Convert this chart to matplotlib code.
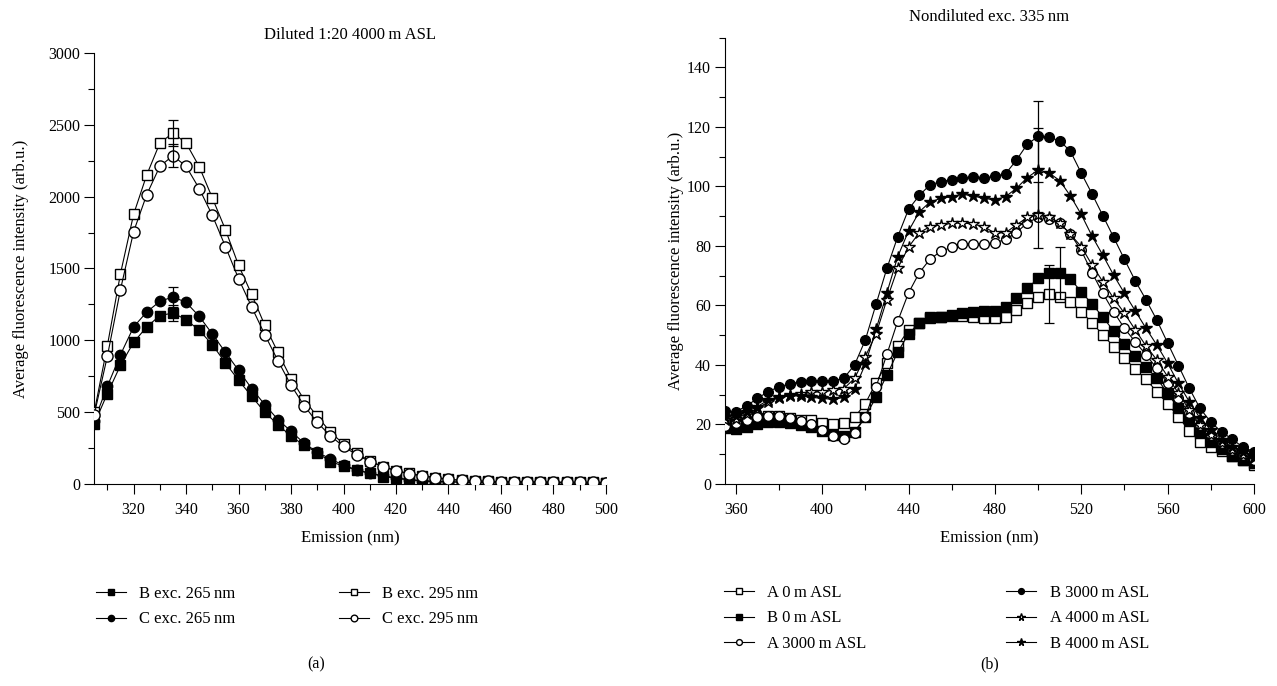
import numpy as np
import matplotlib
matplotlib.use('Agg')
from matplotlib import pyplot as plt
from matplotlib.ticker import MultipleLocator

plt.rcParams['font.family'] = ['Liberation Serif', 'DejaVu Serif']
plt.rcParams['font.size'] = 11.5

# ---- panel (a): diluted 1:20, 4000 m ASL ----
wl_a = list(range(305, 505, 5))
b265 = [418, 629, 826, 986, 1093, 1172, 1190, 1144, 1070, 970, 842, 722, 610, 499, 413, 332,
        269, 218, 155, 125, 96, 75, 52, 40, 30, 22, 18, 15, 13, 12, 11, 10, 10, 9, 9, 8, 8, 8, 8, 8]
c265 = [440, 680, 900, 1093, 1197, 1271, 1302, 1264, 1167, 1044, 916, 791, 664, 552, 448, 367,
        283, 222, 174, 131, 99, 74, 59, 42, 30, 21, 17, 15, 13, 12, 11, 10, 10, 9, 9, 8, 8, 8, 8, 8]
b295 = [500, 963, 1464, 1877, 2151, 2373, 2443, 2373, 2209, 1991, 1770, 1522, 1320, 1104, 916, 733,
        586, 470, 362, 278, 214, 160, 121, 93, 74, 58, 44, 32, 25, 21, 18, 16, 15, 14, 13, 12, 12, 11, 11, 10]
c295 = [483, 889, 1353, 1756, 2014, 2211, 2285, 2211, 2056, 1870, 1652, 1429, 1232, 1039, 858, 687,
        545, 428, 335, 261, 203, 156, 121, 93, 70, 56, 44, 32, 25, 21, 18, 16, 15, 14, 13, 12, 12, 11, 11, 10]
err_a = {'b265': 58, 'c265': 70, 'b295': 93, 'c295': 80}  # error bars at 335 nm

# ---- panel (b): nondiluted, exc. 335 nm ----
wl_b = list(range(355, 605, 5))
a0 = [20.4, 20.2, 20.6, 22.1, 22.9, 22.9, 22.1, 21.5, 21.5, 20.4, 20.2, 20.4, 22.4, 27.0, 34.1, 40.6,
      46.4, 51.8, 54.2, 56.0, 56.2, 56.5, 56.5, 56.0, 55.7, 55.7, 56.2, 58.5, 60.9, 63.0, 63.8, 63.0,
      61.3, 57.9, 54.2, 50.1, 46.2, 42.2, 38.7, 35.2, 31.0, 26.9, 22.6, 17.8, 14.2, 12.5, 11.0, 9.5, 8.0, 6.5]
b0 = [18.7, 18.4, 19.0, 20.2, 20.9, 20.9, 20.4, 19.8, 19.0, 17.9, 16.5, 16.1, 17.6, 22.6, 29.2, 36.6,
      44.3, 50.4, 54.2, 55.7, 56.2, 56.8, 57.4, 57.9, 58.3, 58.3, 59.6, 62.4, 65.8, 69.1, 71.0, 71.0,
      68.9, 64.6, 60.5, 56.1, 51.4, 47.0, 43.0, 39.2, 35.5, 30.5, 25.4, 21.5, 17.0, 14.2, 11.7, 9.4, 8.1, 7.0]
a3000 = [19.5, 20.5, 21.5, 22.6, 23.0, 23.0, 22.2, 21.2, 20.0, 18.2, 16.2, 15.2, 17.0, 22.6, 32.7, 43.6,
         54.7, 64.2, 71.0, 75.6, 78.2, 79.6, 80.5, 80.8, 80.7, 81.1, 82.2, 84.5, 87.8, 89.6, 89.1, 87.6,
         84.0, 78.5, 71.0, 64.1, 57.9, 52.3, 47.8, 43.4, 38.9, 33.8, 28.8, 23.8, 19.8, 16.5, 13.7, 11.4, 9.7, 8.0]
b3000 = [24.5, 24.3, 26.2, 28.8, 31.0, 32.7, 33.6, 34.4, 34.7, 34.7, 34.7, 35.5, 40.0, 48.4, 60.5, 72.5,
         83.1, 92.3, 97.0, 100.6, 101.6, 102.3, 102.8, 103.3, 102.9, 103.4, 104.3, 108.9, 114.2, 116.8, 116.5, 115.4,
         111.8, 104.5, 97.5, 90.2, 82.9, 75.5, 68.3, 61.9, 55.1, 47.4, 39.8, 32.2, 25.4, 20.8, 17.5, 15.0, 12.3, 10.9]
a4000 = [21.5, 22.0, 23.5, 25.5, 27.5, 29.0, 29.8, 30.3, 30.8, 31.0, 31.5, 32.0, 35.5, 42.8, 50.5, 62.0,
         72.5, 79.6, 84.5, 86.5, 87.1, 87.6, 87.8, 87.3, 86.5, 84.3, 84.5, 87.1, 89.6, 90.4, 89.8, 87.8,
         83.9, 79.8, 73.6, 68.0, 62.4, 57.4, 51.8, 46.4, 41.7, 36.1, 30.5, 24.9, 19.8, 16.5, 13.9, 11.4, 9.7, 8.6]
b4000 = [22.6, 22.9, 24.3, 26.0, 28.2, 29.1, 29.6, 29.6, 29.1, 28.8, 28.4, 29.1, 31.8, 40.3, 52.0, 64.3,
         76.4, 85.0, 91.5, 94.8, 96.0, 96.6, 97.4, 96.8, 96.0, 95.5, 96.6, 99.4, 103.0, 105.5, 104.6, 102.0,
         96.8, 90.6, 83.3, 76.9, 70.2, 64.1, 58.2, 52.3, 46.7, 40.6, 33.8, 27.7, 22.1, 18.2, 14.8, 12.5, 10.9, 9.2]
# (wavelength, error) for the few points with error bars
err_b = {'b3000': (500, 12), 'b4000': (500, 14), 'a4000': (500, 11),
         'a0': (505, 9.7), 'b0': (510, 8.8)}

W = 'white'
K = 'black'


def series(ax, x, y, marker, face, label, ms, err=None):
    ax.plot(x, y, '-', color=K, lw=0.8, marker=marker, ms=ms, mfc=face,
            mec=K, mew=1.0, label=label, zorder=3)
    if err is not None:
        ex, ey = err
        i = list(x).index(ex)
        ax.errorbar([ex], [y[i]], yerr=[ey], fmt='none', ecolor=K, elinewidth=0.9,
                    capsize=3.5, capthick=0.9, zorder=4)


def style(ax):
    for s in ('top', 'right'):
        ax.spines[s].set_visible(False)
    ax.tick_params(which='both', direction='out', length=7, width=0.8, pad=3,
                   labelsize=11.5)
    ax.tick_params(which='minor', length=4)
    ax.tick_params(axis='x', pad=6)


fig = plt.figure(figsize=(12.77, 6.86), dpi=100)

ax1 = fig.add_axes([0.0738, 0.2945, 0.4007, 0.6283])
series(ax1, wl_a, b265, 's', K, 'B exc. 265\u2009nm', 7, (335, err_a['b265']))
series(ax1, wl_a, c265, 'o', K, 'C exc. 265\u2009nm', 7.5, (335, err_a['c265']))
series(ax1, wl_a, b295, 's', W, 'B exc. 295\u2009nm', 7.5, (335, err_a['b295']))
series(ax1, wl_a, c295, 'o', W, 'C exc. 295\u2009nm', 8, (335, err_a['c295']))
ax1.set_xlim(305, 500)
ax1.set_ylim(0, 3000)
ax1.xaxis.set_major_locator(MultipleLocator(20))
ax1.xaxis.set_minor_locator(MultipleLocator(10))
ax1.yaxis.set_major_locator(MultipleLocator(500))
ax1.yaxis.set_minor_locator(MultipleLocator(250))
style(ax1)
ax1.set_xlabel('Emission (nm)', fontsize=12, labelpad=9)
ax1.set_ylabel('Average fluorescence intensity (arb.u.)', fontsize=12)
ax1.yaxis.set_label_coords(-0.128, 0.5)
ax1.set_title('Diluted 1:20 4000\u2009m ASL', fontsize=12, pad=10)
ax1.legend(ncol=2, loc='upper left', bbox_to_anchor=(-0.01, -0.222), frameon=False,
           fontsize=12, markerscale=0.6, handlelength=1.8, columnspacing=6.2,
           labelspacing=0.55, borderaxespad=0)
fig.text(0.2475, 0.025, '(a)', ha='center', fontsize=11.5)

ax2 = fig.add_axes([0.5677, 0.2945, 0.4143, 0.6505])
series(ax2, wl_b, a0, 's', W, 'A 0\u2009m ASL', 6.5, err_b['a0'])
series(ax2, wl_b, b0, 's', K, 'B 0\u2009m ASL', 6.5, err_b['b0'])
series(ax2, wl_b, a3000, 'o', W, 'A 3000\u2009m ASL', 7, None)
series(ax2, wl_b, b3000, 'o', K, 'B 3000\u2009m ASL', 7, err_b['b3000'])
series(ax2, wl_b, a4000, '*', W, 'A 4000\u2009m ASL', 9, err_b['a4000'])
series(ax2, wl_b, b4000, '*', K, 'B 4000\u2009m ASL', 9, err_b['b4000'])
ax2.set_xlim(355, 600)
ax2.set_ylim(0, 150)
ax2.xaxis.set_major_locator(MultipleLocator(40))
ax2.xaxis.set_minor_locator(MultipleLocator(20))
ax2.yaxis.set_major_locator(MultipleLocator(20))
ax2.yaxis.set_minor_locator(MultipleLocator(10))
ax2.set_yticks(np.arange(0, 141, 20))
style(ax2)
ax2.set_xlabel('Emission (nm)', fontsize=12, labelpad=9)
ax2.set_ylabel('Average fluorescence intensity (arb.u.)', fontsize=12)
ax2.yaxis.set_label_coords(-0.078, 0.5)
ax2.set_title('Nondiluted exc. 335\u2009nm', fontsize=12, pad=12)
ax2.legend(ncol=2, loc='upper left', bbox_to_anchor=(-0.015, -0.212), frameon=False,
           fontsize=12, markerscale=0.6, handlelength=1.8, columnspacing=8.4,
           labelspacing=0.55, borderaxespad=0)
fig.text(0.775, 0.025, '(b)', ha='center', fontsize=11.5)

plt.savefig('out.png', dpi=100)
plt.close()
